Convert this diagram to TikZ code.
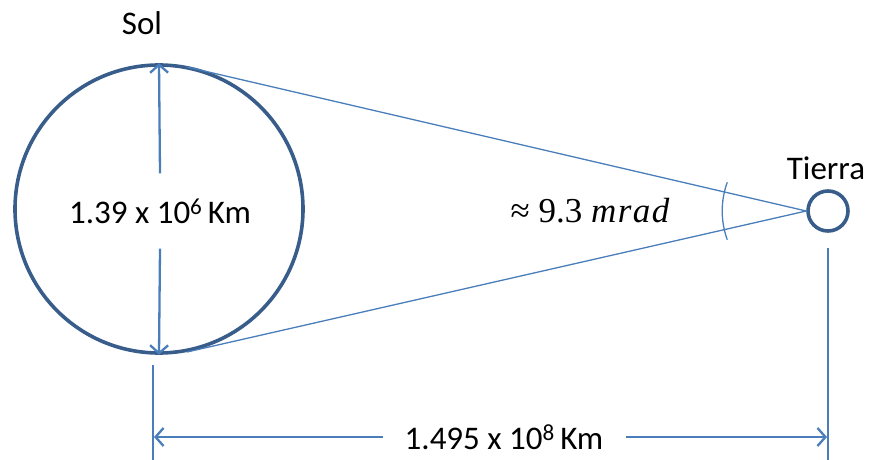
\documentclass[tikz,border=0pt]{standalone}
\usepackage{fontspec}
\setmainfont{Carlito}
\newfontfamily\cambriaish{Liberation Serif}
\usetikzlibrary{arrows.meta}
\definecolor{dark}{HTML}{385D8A}
\definecolor{lin}{HTML}{4A7EBB}
\begin{document}
\begin{tikzpicture}[x=1pt,y=-1pt,
  txt/.style={font=\fontsize{33}{38}\selectfont, inner sep=0pt},
  body/.style={circle, draw=dark, line width=3.6pt, inner sep=0pt},
  thinline/.style={draw=lin, line width=1.3pt},
  dimarrow/.style={draw=lin, line width=2.3pt, -{Straight Barb[length=8pt,width=18pt,line width=2.3pt]}},
  extline/.style={draw=lin, line width=2pt}
]
\useasboundingbox (0,0) rectangle (870,460);
% bodies
\node[body, minimum size=288pt] (sun) at (159,209) {};
\node[body, minimum size=40pt] (earth) at (828,211) {};
% labels
\node[txt] (sol) at (142,23) {Sol};
\node[txt] (tierra) at (826,168) {Tierra};
\node[txt, minimum height=75pt] (diam) at (160,211) {1.39 x 10\textsuperscript{6}\,Km};
\node[font=\fontsize{35}{40}\selectfont\cambriaish, inner sep=0pt] (ang) at (590,211) {≈ 9.3 {\itshape m\kern1.5pt r\kern1.5pt a\kern1.5pt d}};
\node[txt, inner xsep=22pt] (dist) at (504,437) {1.495 x 10\textsuperscript{8}\,Km};
% tangent lines
\coordinate (t1) at (187,67);
\coordinate (t2) at (187,352);
\draw[thinline] (t1) -- (earth.west) -- (t2);
% angle arc
\draw[thinline] ([shift={(160:84pt)}]earth.west) arc[start angle=160, end angle=200, radius=84pt];
% diameter arrows
\draw[dimarrow] (diam.north) -- (sun.north);
\draw[dimarrow] (diam.south) -- (sun.south);
% extension lines
\coordinate (e1a) at (153,365);
\coordinate (e1b) at (153,460);
\coordinate (e2a) at (828,248);
\coordinate (e2b) at (828,460);
\draw[extline] (e1a) -- (e1b);
\draw[extline] (e2a) -- (e2b);
\coordinate (d1) at (154,437);
\coordinate (d2) at (827,437);
\draw[dimarrow] (dist.west) -- (d1);
\draw[dimarrow] (dist.east) -- (d2);
\end{tikzpicture}
\end{document}
